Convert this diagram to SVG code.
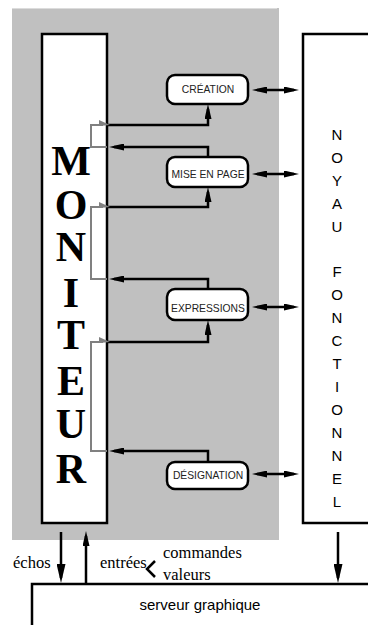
<svg xmlns="http://www.w3.org/2000/svg" width="368" height="625" viewBox="0 0 368 625">
<style>
.box{fill:#fff;stroke:#000;stroke-width:2.5}
.rbox{fill:#fff;stroke:#000;stroke-width:2.5}
.lbl{font-family:"Liberation Sans",Arial,sans-serif;font-size:10.3px;fill:#222;text-anchor:middle}
.mon{font-family:"Liberation Serif","Times New Roman",serif;font-size:42px;font-weight:bold;text-anchor:middle}
.noy{font-family:"Liberation Sans",Arial,sans-serif;font-size:15px;text-anchor:middle}
.ser{font-family:"Liberation Serif","Times New Roman",serif;font-size:16.5px}
.c{fill:none;stroke:#000;stroke-width:2.5}
.g{fill:none;stroke:#808080;stroke-width:2}
</style>
<defs>
<marker id="a" viewBox="0 0 15 7" refX="10" refY="3.5" markerWidth="15" markerHeight="7" markerUnits="userSpaceOnUse" orient="auto-start-reverse"><path d="M0,0 L15,3.5 L0,7 z" fill="#000"/></marker>
<marker id="b" viewBox="0 0 19 9" refX="14" refY="4.5" markerWidth="19" markerHeight="9" markerUnits="userSpaceOnUse" orient="auto"><path d="M0,0 L19,4.5 L0,9 z" fill="#000"/></marker>
<marker id="gm" viewBox="0 0 11 7" refX="4" refY="5" markerWidth="11" markerHeight="7" markerUnits="userSpaceOnUse" orient="auto"><path d="M0,0 L11,5 L0,6 z" fill="#808080"/></marker>
</defs>
<rect x="12" y="8" width="267" height="532" fill="#c0c0c0"/>
<line x1="12" y1="8.5" x2="277" y2="8.5" stroke="#dcdcdc" stroke-width="1"/>

<g id="moniteur">
<rect class="box" x="42" y="34" width="65" height="489"/>
<text class="mon" x="71" y="175">M</text>
<text class="mon" x="71" y="219">O</text>
<text class="mon" x="71" y="261">N</text>
<text class="mon" x="71" y="307">I</text>
<text class="mon" x="71" y="349">T</text>
<text class="mon" x="71" y="395">E</text>
<text class="mon" x="71" y="438">U</text>
<text class="mon" x="71" y="483">R</text>
</g>

<g id="noyau">
<rect class="box" x="303" y="34" width="80" height="489"/>
<text class="noy" x="337" y="140">N</text>
<text class="noy" x="337" y="163">O</text>
<text class="noy" x="337" y="186">Y</text>
<text class="noy" x="337" y="209">A</text>
<text class="noy" x="337" y="232">U</text>
<text class="noy" x="337" y="277">F</text>
<text class="noy" x="337" y="300">O</text>
<text class="noy" x="337" y="323">N</text>
<text class="noy" x="337" y="346">C</text>
<text class="noy" x="337" y="369">T</text>
<text class="noy" x="337" y="392">I</text>
<text class="noy" x="337" y="415">O</text>
<text class="noy" x="337" y="438">N</text>
<text class="noy" x="337" y="461">N</text>
<text class="noy" x="337" y="484">E</text>
<text class="noy" x="337" y="507">L</text>
</g>

<g id="creation"><rect class="rbox" x="167" y="75" width="81" height="29" rx="8"/><text class="lbl" x="208" y="93">CRÉATION</text></g>
<g id="mise-en-page"><rect class="rbox" x="167" y="157" width="81" height="30" rx="8"/><text class="lbl" x="208" y="178">MISE EN PAGE</text></g>
<g id="expressions"><rect class="rbox" x="167" y="289" width="81" height="31" rx="8"/><text class="lbl" x="208" y="312">EXPRESSIONS</text></g>
<g id="designation"><rect class="rbox" x="167" y="462" width="81" height="27" rx="8"/><text class="lbl" x="208" y="479">DÉSIGNATION</text></g>

<g id="serveur">
<rect class="box" x="32" y="584" width="350" height="60"/>
<text x="200" y="610" font-family="'Liberation Sans',Arial,sans-serif" font-size="15" text-anchor="middle">serveur graphique</text>
</g>

<g id="connectors">
<path class="c" d="M107,125 H208 V109" marker-end="url(#a)"/>
<path class="c" d="M208,157 V147 H114" marker-end="url(#a)"/>
<path class="c" d="M107,207 H208 V192" marker-end="url(#a)"/>
<path class="c" d="M208,289 V279 H114" marker-end="url(#a)"/>
<path class="c" d="M107,342 H208 V325" marker-end="url(#a)"/>
<path class="c" d="M208,462 V451 H114" marker-end="url(#a)"/>
<path class="g" d="M107,147 H91 V125 H103" marker-end="url(#gm)"/>
<path class="g" d="M107,279 H91 V207 H103" marker-end="url(#gm)"/>
<path class="g" d="M107,451 H91 V342 H103" marker-end="url(#gm)"/>
<path class="c" d="M257,90 H294" marker-start="url(#a)" marker-end="url(#a)"/>
<path class="c" d="M257,174 H294" marker-start="url(#a)" marker-end="url(#a)"/>
<path class="c" d="M257,307 H294" marker-start="url(#a)" marker-end="url(#a)"/>
<path class="c" d="M257,474 H294" marker-start="url(#a)" marker-end="url(#a)"/>
<path class="c" d="M61,532 V578" marker-end="url(#b)"/>
<path class="c" d="M86,583 V536" marker-end="url(#a)"/>
<path class="c" d="M338,532 V578" marker-end="url(#b)"/>
<path class="c" d="M155,561 L147,569 L155,577"/>
</g>
<text class="ser" x="13" y="568">échos</text>
<text class="ser" x="100" y="568">entrées</text>
<text class="ser" x="163" y="558">commandes</text>
<text class="ser" x="163" y="580">valeurs</text>
</svg>
